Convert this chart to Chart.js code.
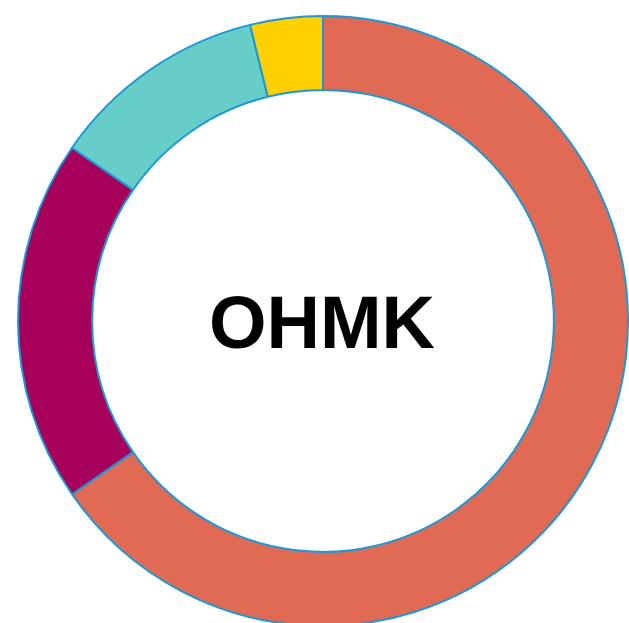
<!DOCTYPE html>
<html lang="en">
<head>
    <meta charset="UTF-8">
    <title>OHMK</title>
    <script src="https://cdn.jsdelivr.net/npm/chart.js"></script>
    <style>
        html, body { margin: 0; padding: 0; background: #fff; overflow: hidden; }
        .grafico { position: absolute; left: 0; top: 0; width: 646px; height: 642px; }
    </style>
</head>
<body>
    <div class="grafico">
        <canvas id="rosca"></canvas>
    </div>

<script>
    // dados do gráfico
    const categorias = ['A', 'B', 'C', 'D'];
    const valores = [17, 5, 3, 1];
    const cores = ['#E06A53', '#A6005B', '#66CDC9', '#FFCF00'];
    const tituloCentro = 'OHMK';

    // texto no meio da rosca
    const textoCentro = {
        id: 'textoCentro',
        afterDraw(chart) {
            const ctx = chart.ctx;
            const arco = chart.getDatasetMeta(0).data[0];
            ctx.save();
            ctx.font = 'bold 74px "Liberation Sans", Arial, sans-serif';
            ctx.fillStyle = '#000';
            ctx.textAlign = 'center';
            ctx.textBaseline = 'alphabetic';
            ctx.fillText(tituloCentro, arco.x - 1, arco.y + 27);
            ctx.restore();
        }
    };

    new Chart(document.getElementById('rosca'), {
        type: 'doughnut',
        data: {
            labels: categorias,
            datasets: [{
                data: valores,
                backgroundColor: cores,
                borderColor: '#1B98D5',
                borderWidth: 2
            }]
        },
        options: {
            responsive: true,
            maintainAspectRatio: false,
            animation: false,
            radius: 305,
            cutout: '75.7%',
            plugins: {
                legend: { display: false },
                tooltip: { enabled: false }
            }
        },
        plugins: [textoCentro]
    });
</script>
</body>
</html>
